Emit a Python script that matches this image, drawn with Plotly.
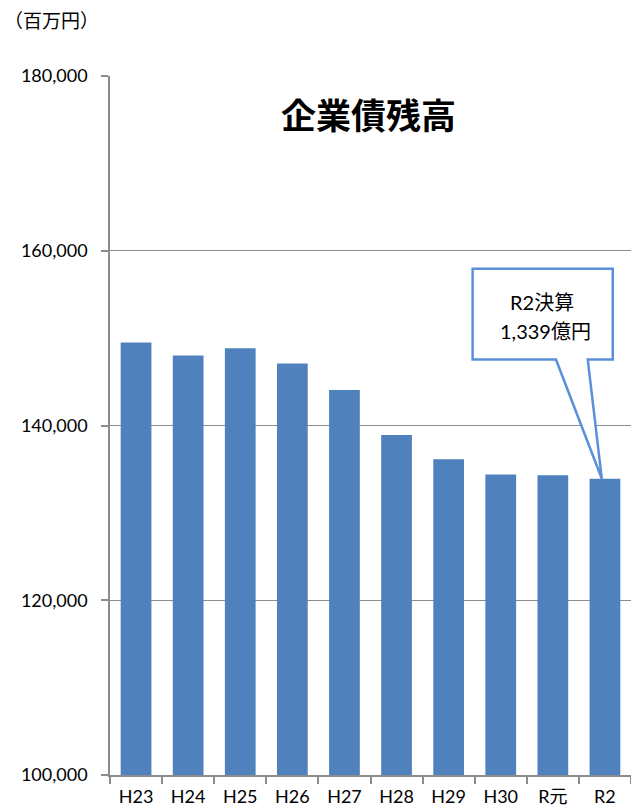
import plotly.graph_objects as go

# fiscal years and outstanding corporate bond balance (million yen)
years = ["H23", "H24", "H25", "H26", "H27", "H28", "H29", "H30", "R元", "R2"]
balance = [149500, 148000, 148850, 147100, 144050, 138900, 136150, 134400, 134300, 133900]

y_ticks = [100000, 120000, 140000, 160000, 180000]
y_labels = ["100,000", "120,000", "140,000", "160,000", "180,000"]

title_text = "企業債残高"
unit_text = "（百万円）"
callout_lines = ["R2決算", "1,339億円"]

FONT = "Lato, 'Noto Sans CJK JP', sans-serif"
BAR = "#4F81BD"
GRID = "#8C8C8C"
CALLOUT = "#5B8FD9"

fig = go.Figure()
fig.add_trace(go.Bar(
    x=years, y=balance,
    marker=dict(color=BAR, line=dict(width=0)),
    width=0.59,
))

axis_common = dict(
    showline=True, linecolor=GRID, linewidth=1.5,
    ticks="outside", tickcolor=GRID, ticklen=7, tickwidth=1.5,
    tickfont=dict(family=FONT, size=18, color="#000000"),
)

fig.update_xaxes(type="category", tickson="boundaries", showgrid=False,
                 ticklabelstandoff=5, **axis_common)
fig.update_yaxes(range=[100000, 180000], tickvals=y_ticks, ticktext=y_labels,
                 showgrid=True, gridcolor=GRID, gridwidth=1.2, zeroline=False,
                 ticklabelstandoff=10, **axis_common)

# speech-bubble callout pointing at the R2 bar
tip_y = balance[-1]
box_top, box_bot = 157940, 147540
path = (f"M 0.696 {box_top} L 0.965 {box_top} L 0.965 {box_bot} "
        f"L 0.917 {box_bot} L 0.944 {tip_y} L 0.856 {box_bot} "
        f"L 0.696 {box_bot} Z")
fig.add_shape(type="path", xref="paper", yref="y", path=path,
              line=dict(color=CALLOUT, width=2.5), fillcolor="white", layer="above")


def px_note(text, px, py, size, family=FONT, xanchor="center"):
    # place a text by pixel position in the 631x812 canvas (plot area 110..631, 76..775)
    fig.add_annotation(text=text, xref="paper", yref="paper",
                       x=(px - 110) / 521, y=(775 - py) / 699,
                       xanchor=xanchor, yanchor="middle", showarrow=False,
                       font=dict(family=family, size=size, color="#000000"))


px_note(callout_lines[0], 542, 302, 20)
px_note(callout_lines[1], 545, 331, 20)
px_note(f"<b>{title_text}</b>", 368, 114, 35, family="'Noto Sans CJK JP', sans-serif")
px_note(unit_text, 2, 20, 19, xanchor="left")

fig.update_layout(
    width=631, height=812,
    margin=dict(l=110, r=0, t=76, b=37),
    plot_bgcolor="white", paper_bgcolor="white",
    showlegend=False,
    bargap=0.41,
)

fig.write_html("out.html", config={"displayModeBar": False},
               post_script="document.body.style.margin='0';")
